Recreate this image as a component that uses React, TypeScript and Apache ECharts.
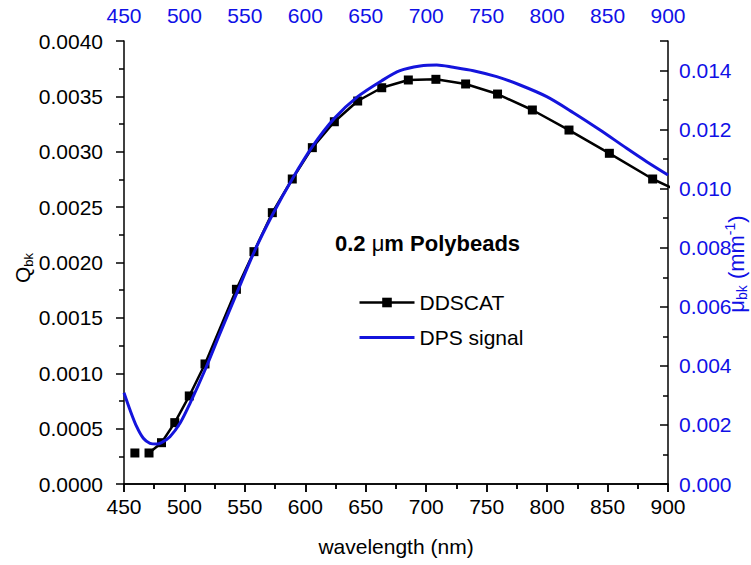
import React, { useEffect, useRef } from "react";
import * as echarts from "echarts";

// DDSCAT (left axis, Q_bk)
const ddscatWl = [459, 470.7, 481, 492, 504, 517, 543, 557.5, 572.7, 589.2, 605.8, 624, 643.3, 663.2, 685.2, 708, 732.6, 759, 787.8, 818.1, 851.5, 887.3, 927];
const ddscatQ = [0.00028, 0.00028, 0.000373, 0.000554, 0.000795, 0.001084, 0.001758, 0.002098, 0.00245, 0.002754, 0.003037, 0.003271, 0.003458, 0.003578, 0.003648, 0.003654, 0.003612, 0.003521, 0.003377, 0.003196, 0.002986, 0.002754, 0.00255];

// DPS signal (right axis, mu_bk)
const dpsWl = [450, 455, 460.5, 466, 471.5, 477, 481, 488, 496.3, 504.6, 517, 529.4, 543.2, 558.4, 572.7, 589.2, 605.8, 624, 643.3, 663.2, 678.3, 694.9, 708.7, 722.4, 739, 758.3, 777.6, 799.7, 821.7, 843.8, 865.8, 882.4, 900];
const dpsMu = [0.00309, 0.002506, 0.00194, 0.001547, 0.001378, 0.001354, 0.0014, 0.0016, 0.002055, 0.00273, 0.00386, 0.0051, 0.006457, 0.007923, 0.009108, 0.010327, 0.01142, 0.01238, 0.013115, 0.013656, 0.013995, 0.014153, 0.014187, 0.01411, 0.013995, 0.013792, 0.01351, 0.013115, 0.012573, 0.011986, 0.011367, 0.010914, 0.010463];

const FONT = 'Arial, "Liberation Sans", sans-serif';
const BLUE = "#1010e6";
const LINEBLUE = "#1414dc";

export default function App() {
  const ref = useRef<HTMLDivElement>(null);
  useEffect(() => {
    if (!ref.current) return;
    const chart = echarts.init(ref.current, null, { renderer: "svg" });
    const ddData: any[] = ddscatWl.map((w, i) => [w, ddscatQ[i]]);
    ddData.splice(1, 0, [465, "-"]);
    const dpsData = dpsWl.map((w, i) => [w, dpsMu[i]]);
    const baseX = {
      type: "value",
      min: 450,
      max: 900,
      interval: 50,
      splitLine: { show: false },
      axisLine: { lineStyle: { color: "#000", width: 1.5 } },
      minorTick: { show: true, splitNumber: 2, length: 5, lineStyle: { color: "#000", width: 1.5 } },
      axisTick: { length: 8, lineStyle: { color: "#000", width: 1.5 } },
    };
    chart.setOption({
      animation: false,
      backgroundColor: "#fff",
      grid: { left: 124, right: 83, top: 41, bottom: 81 },
      xAxis: [
        {
          ...baseX,
          position: "bottom",
          axisLabel: { fontFamily: FONT, fontSize: 21, color: "#000", margin: 12 },
          name: "wavelength (nm)",
          nameLocation: "middle",
          nameGap: 52,
          nameTextStyle: { fontFamily: FONT, fontSize: 21, color: "#000" },
        },
        {
          ...baseX,
          position: "top",
          axisTick: { ...baseX.axisTick, inside: true },
          axisLabel: { fontFamily: FONT, fontSize: 21, color: BLUE, margin: 15 },
        },
      ],
      yAxis: [
        {
          type: "value",
          min: 0,
          max: 0.004,
          interval: 0.0005,
          position: "left",
          splitLine: { show: false },
          axisLine: { show: true, lineStyle: { color: "#000", width: 1.5 } },
          axisTick: { show: true, length: 8, lineStyle: { color: "#000", width: 1.5 } },
          minorTick: { show: true, splitNumber: 2, length: 5, lineStyle: { color: "#000", width: 1.5 } },
          axisLabel: { fontFamily: FONT, fontSize: 21, color: "#000", margin: 21, formatter: (v: number) => v.toFixed(4) },
        },
        {
          type: "value",
          min: 0,
          max: 0.015,
          interval: 0.002,
          position: "right",
          splitLine: { show: false },
          axisLine: { show: true, lineStyle: { color: "#000", width: 1.5 } },
          axisTick: { show: true, inside: true, length: 8, lineStyle: { color: "#000", width: 1.5 } },
          minorTick: { show: true, splitNumber: 2, length: 5, lineStyle: { color: "#000", width: 1.5 } },
          axisLabel: { fontFamily: FONT, fontSize: 21, color: BLUE, margin: 11, showMaxLabel: false, formatter: (v: number) => v.toFixed(3) },
        },
      ],
      legend: {
        orient: "vertical",
        left: 353,
        top: 287,
        itemGap: 14,
        itemWidth: 55,
        itemHeight: 12,
        textStyle: { fontFamily: FONT, fontSize: 21, color: "#000" },
        data: [
          { name: "DDSCAT", lineStyle: { width: 2.5, color: "#000" } },
          { name: "DPS signal", itemStyle: { opacity: 0 }, lineStyle: { width: 3, color: LINEBLUE } },
        ],
      },
      series: [
        {
          name: "DDSCAT",
          type: "line",
          xAxisIndex: 0,
          yAxisIndex: 0,
          data: ddData,
          symbol: "rect",
          symbolSize: 9,
          showSymbol: true,
          connectNulls: false,
          clip: true,
          lineStyle: { color: "#000", width: 2.5 },
          itemStyle: { color: "#000" },
          z: 2,
        },
        {
          name: "DPS signal",
          type: "line",
          xAxisIndex: 0,
          yAxisIndex: 1,
          data: dpsData,
          symbol: "none",
          smooth: 0.3,
          clip: true,
          lineStyle: { color: LINEBLUE, width: 3 },
          itemStyle: { color: LINEBLUE },
          z: 3,
        },
      ],
      graphic: [
        {
          type: "text",
          left: 335,
          top: 232,
          style: {
            text: "0.2 {m|\u03bc}m Polybeads",
            fontFamily: FONT,
            fontSize: 22,
            fontWeight: "bold",
            fill: "#000",
            rich: { m: { fontFamily: FONT, fontSize: 22, fontWeight: "normal", fill: "#000" } },
          },
        },
        {
          type: "text",
          x: 22,
          y: 268,
          rotation: Math.PI / 2,
          style: {
            text: "{a|Q}{b|bk}",
            align: "center",
            verticalAlign: "middle",
            rich: {
              a: { fontFamily: FONT, fontSize: 21, fill: "#000" },
              b: { fontFamily: FONT, fontSize: 13, fill: "#000", padding: [12, 0, 0, 0] },
            },
          },
        },
        {
          type: "text",
          x: 736,
          y: 264,
          rotation: Math.PI / 2,
          style: {
            text: "{a|\u03bc}{b|bk}{a| (mm}{c|-1}{a|)}",
            align: "center",
            verticalAlign: "middle",
            rich: {
              a: { fontFamily: FONT, fontSize: 22, fill: BLUE },
              b: { fontFamily: FONT, fontSize: 14, fill: BLUE, padding: [12, 0, 0, 0] },
              c: { fontFamily: FONT, fontSize: 14, fill: BLUE, padding: [0, 0, 12, 0] },
            },
          },
        },
      ],
    });
    return () => chart.dispose();
  }, []);
  return <div ref={ref} style={{ width: 751, height: 565, position: "absolute", left: 0, top: 0 }} />;
}
